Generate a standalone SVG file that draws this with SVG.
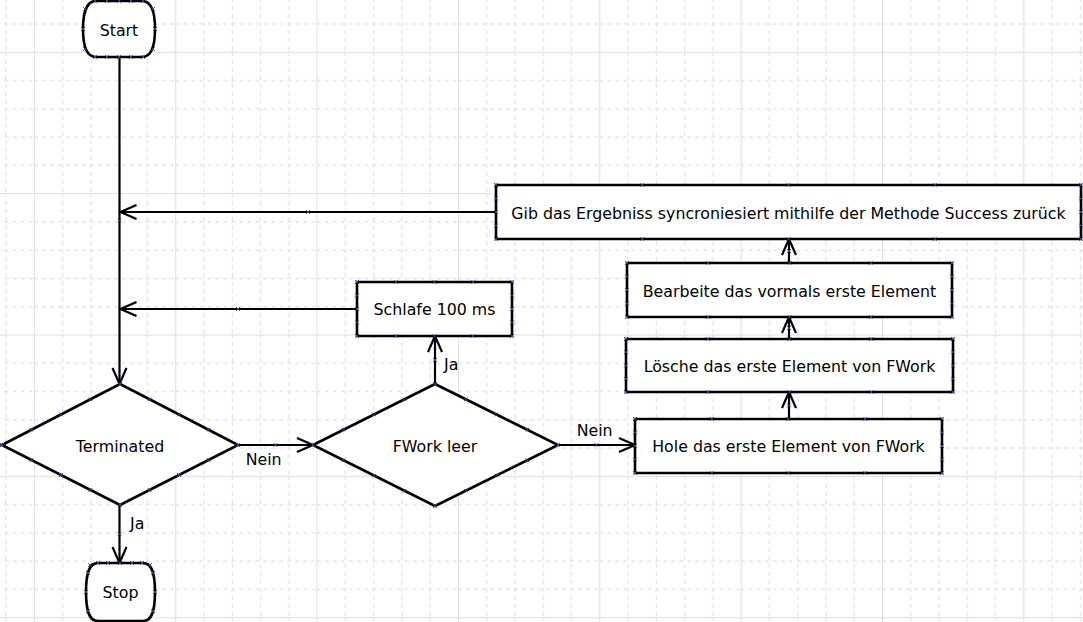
<svg xmlns="http://www.w3.org/2000/svg" width="1083" height="622" viewBox="0 0 1083 622">
<style>
.bg{fill:#ffffff}
.shape{fill:#ffffff;stroke:#000;stroke-width:2.6;marker-start:url(#pt);marker-mid:url(#pt);marker-end:url(#pt)}
.pts{fill:none;stroke:none;marker-start:url(#pt);marker-mid:url(#pt);marker-end:url(#pt)}
.conn{fill:none;stroke:#000;stroke-width:2.2;marker-mid:url(#pt);marker-end:url(#arrow)}
text{font-family:"DejaVu Sans","Liberation Sans",sans-serif;font-size:15.8px;fill:#000}
.c{text-anchor:middle}
.gs{stroke:#d9e0e0;stroke-width:1}
.gd{stroke:#d6dcdc;stroke-width:1;stroke-dasharray:4 4}
</style>
<defs>
<marker id="pt" markerUnits="userSpaceOnUse" viewBox="-3 -3 6 6" markerWidth="6" markerHeight="6" refX="0" refY="0" orient="0" overflow="visible">
<path d="M-1.8,-1.8L1.8,1.8M-1.8,1.8L1.8,-1.8" stroke="#3a3a9a" stroke-width="1" fill="none"/>
</marker>
<marker id="arrow" markerUnits="userSpaceOnUse" viewBox="-18 -9 20 18" markerWidth="20" markerHeight="18" refX="0" refY="0" orient="auto" overflow="visible">
<path d="M-16,-7L0,0L-16,7" fill="none" stroke="#000" stroke-width="2.2"/>
</marker>
<pattern id="grid" patternUnits="userSpaceOnUse" x="33.9" y="51.8" width="141.35" height="141.35">
<line class="gs" x1="0.5" y1="0" x2="0.5" y2="141.35"/>
<line class="gs" x1="0" y1="0.5" x2="141.35" y2="0.5"/>
<line class="gd" x1="28.77" y1="0" x2="28.77" y2="141.35"/>
<line class="gd" x1="57.04" y1="0" x2="57.04" y2="141.35"/>
<line class="gd" x1="85.31" y1="0" x2="85.31" y2="141.35"/>
<line class="gd" x1="113.58" y1="0" x2="113.58" y2="141.35"/>
<line class="gd" x1="0" y1="28.77" x2="141.35" y2="28.77"/>
<line class="gd" x1="0" y1="57.04" x2="141.35" y2="57.04"/>
<line class="gd" x1="0" y1="85.31" x2="141.35" y2="85.31"/>
<line class="gd" x1="0" y1="113.58" x2="141.35" y2="113.58"/>
</pattern>
</defs>
<rect class="bg" x="0" y="0" width="1083" height="622"/>
<rect x="0" y="0" width="1083" height="622" fill="url(#grid)"/>

<g id="connectors">
<path class="conn" d="M119.5,57L119.5,220.5L119.5,384"/>
<path class="conn" d="M238,445L275.5,445L313,445"/>
<path class="conn" d="M119.5,505L119.5,534L119.5,563"/>
<path class="conn" d="M435,384L435,360L435,336"/>
<path class="conn" d="M558,445L596.5,445L635,445"/>
<path class="conn" d="M789,419L789,405.5L789,392"/>
<path class="conn" d="M789,339L789,328L789,317"/>
<path class="conn" d="M789,263L789,251L789,239"/>
<path class="conn" d="M357,309L238,309L120.5,309"/>
<path class="conn" d="M496,212L308,212L120.5,212"/>
<text x="245.7" y="465">Nein</text>
<text x="130" y="529">Ja</text>
<text x="444" y="370">Ja</text>
<text x="576.7" y="435.7">Nein</text>
</g>

<g id="start">
<path d="M96,1H142C150,1 155,10 155,29C155,48 150,57 142,57H96C88,57 83,48 83,29C83,10 88,1 96,1Z" fill="#fff" stroke="#000" stroke-width="2.6"/>
<path class="pts" d="M95,1L107,1L119,1L131,1L143,1M153,9L155,29L153,49M95,57L107,57L119,57L131,57L143,57M85,9L83,29L85,49"/>
<text class="c" x="119" y="35.7">Start</text>
</g>

<g id="terminated">
<path class="shape" d="M2,445L31.5,429.75L61,414.5L90.5,399.25L120,384L149.5,399.25L179,414.5L208.5,429.75L238,445L208.5,460L179,475L149.5,490L120,505L90.5,490L61,475L31.5,460Z"/>
<text class="c" x="120" y="451.7">Terminated</text>
</g>

<g id="stop">
<path d="M98,563H143C151,563 155,571 155,592C155,613 151,621 143,621H98C90,621 86,613 86,592C86,571 90,563 98,563Z" fill="#fff" stroke="#000" stroke-width="2.6"/>
<path class="pts" d="M90,565L98,563L108,563L120,563L132,563L142,563L150,565M153,573L155,592L153,611M88,573L86,592L88,611"/>
<text class="c" x="120.5" y="598">Stop</text>
</g>

<g id="fwork">
<path class="shape" d="M313,445L343.5,429.75L374,414.5L404.5,399.25L435,384L465.75,399.25L496.5,414.5L527.25,429.75L558,445L527.25,460.25L496.5,475.5L465.75,490.75L435,506L404.5,490.75L374,475.5L343.5,460.25Z"/>
<text class="c" x="435" y="451.7">FWork leer</text>
</g>

<g id="schlafe">
<path class="shape" d="M357,282L395.75,282L434.5,282L473.25,282L512,282L512,295.5L512,309L512,322.5L512,336L473.25,336L434.5,336L395.75,336L357,336L357,322.5L357,309L357,295.5Z"/>
<text class="c" x="434.5" y="315">Schlafe 100 ms</text>
</g>

<g id="gib">
<path class="shape" d="M496,185L642.25,185L788.5,185L934.75,185L1081,185L1081,198.5L1081,212L1081,225.5L1081,239L934.75,239L788.5,239L642.25,239L496,239L496,225.5L496,212L496,198.5Z"/>
<text class="c" x="788.5" y="218.5">Gib das Ergebniss syncroniesiert mithilfe der Methode Success zurück</text>
</g>

<g id="bearbeite">
<path class="shape" d="M627,263L708.25,263L789.5,263L870.75,263L952,263L952,276.5L952,290L952,303.5L952,317L870.75,317L789.5,317L708.25,317L627,317L627,303.5L627,290L627,276.5Z"/>
<text class="c" x="789.5" y="296.5">Bearbeite das vormals erste Element</text>
</g>

<g id="loesche">
<path class="shape" d="M626,339L707.75,339L789.5,339L871.25,339L953,339L953,352.25L953,365.5L953,378.75L953,392L871.25,392L789.5,392L707.75,392L626,392L626,378.75L626,365.5L626,352.25Z"/>
<text class="c" x="789.5" y="372">Lösche das erste Element von FWork</text>
</g>

<g id="hole">
<path class="shape" d="M635,419L711.75,419L788.5,419L865.25,419L942,419L942,432.5L942,446L942,459.5L942,473L865.25,473L788.5,473L711.75,473L635,473L635,459.5L635,446L635,432.5Z"/>
<text class="c" x="788.5" y="452.3">Hole das erste Element von FWork</text>
</g>
</svg>
